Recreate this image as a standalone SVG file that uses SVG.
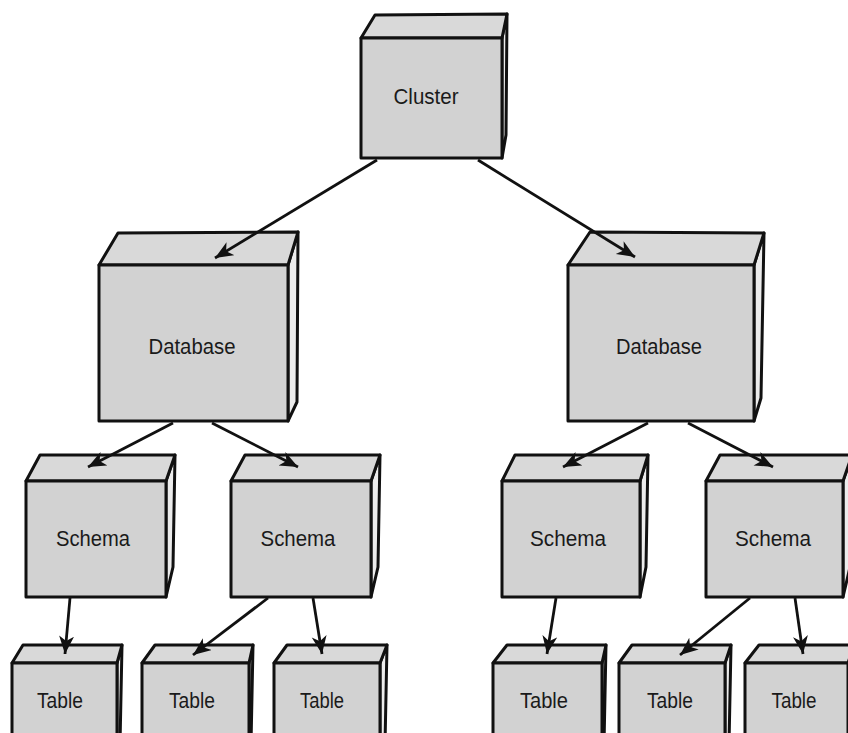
<svg xmlns="http://www.w3.org/2000/svg" width="848" height="733" viewBox="0 0 848 733">
  <style>
    .front { fill: #d2d2d2; stroke: #111; stroke-width: 3; stroke-linejoin: round; }
    .top { fill: #d9d9d9; stroke: #111; stroke-width: 3; stroke-linejoin: round; }
    .side { fill: #ececec; stroke: #111; stroke-width: 3; stroke-linejoin: round; }
    .label { font-family: "Liberation Sans", Arial, sans-serif; font-size: 22px; fill: #1a1a1a; text-anchor: middle; }
    .link { stroke: #111; stroke-width: 2.8; fill: none; marker-end: url(#arrow); }
  </style>
  <defs>
    <marker id="arrow" markerUnits="userSpaceOnUse" markerWidth="20" markerHeight="16" refX="18" refY="7.5" orient="auto">
      <path d="M0,0 L18,7.5 L0,15 L5,7.5 z" fill="#111"/>
    </marker>
  </defs>
  <rect width="848" height="733" fill="#ffffff"/>

  <!-- cluster -->
  <g id="cluster">
    <polygon class="side" points="502,38 507,14 506,135 502,158"/>
    <polygon class="top" points="361,38 375,15 507,14 502,38"/>
    <rect class="front" x="361" y="38" width="141" height="120"/>
    <text class="label" x="426" y="104" textLength="65" lengthAdjust="spacingAndGlyphs">Cluster</text>
  </g>

  <!-- databases -->
  <g id="database-left">
    <polygon class="side" points="288,265 298,232 297,402 288,421"/>
    <polygon class="top" points="99,265 118,233 298,232 288,265"/>
    <rect class="front" x="99" y="265" width="189" height="156"/>
    <text class="label" x="192" y="354" textLength="87" lengthAdjust="spacingAndGlyphs">Database</text>
  </g>
  <g id="database-right">
    <polygon class="side" points="754,265 764,233 761,398 754,421"/>
    <polygon class="top" points="568,265 590,232 764,233 754,265"/>
    <rect class="front" x="568" y="265" width="186" height="156"/>
    <text class="label" x="659" y="354" textLength="86" lengthAdjust="spacingAndGlyphs">Database</text>
  </g>

  <!-- schemas -->
  <g id="schema-1">
    <polygon class="side" points="166,481 175,455 173,567 166,597"/>
    <polygon class="top" points="26,481 40,455 175,455 166,481"/>
    <rect class="front" x="26" y="481" width="140" height="116"/>
    <text class="label" x="93" y="546" textLength="74" lengthAdjust="spacingAndGlyphs">Schema</text>
  </g>
  <g id="schema-2">
    <polygon class="side" points="371,481 380,455 378,567 371,597"/>
    <polygon class="top" points="231,481 245,455 380,455 371,481"/>
    <rect class="front" x="231" y="481" width="140" height="116"/>
    <text class="label" x="298" y="546" textLength="75" lengthAdjust="spacingAndGlyphs">Schema</text>
  </g>
  <g id="schema-3">
    <polygon class="side" points="640,481 648,455 646,567 640,597"/>
    <polygon class="top" points="502,481 515,455 648,455 640,481"/>
    <rect class="front" x="502" y="481" width="138" height="116"/>
    <text class="label" x="568" y="546" textLength="76" lengthAdjust="spacingAndGlyphs">Schema</text>
  </g>
  <g id="schema-4">
    <polygon class="side" points="843,481 852,455 850,567 843,597"/>
    <polygon class="top" points="706,481 720,455 852,455 843,481"/>
    <rect class="front" x="706" y="481" width="137" height="116"/>
    <text class="label" x="773" y="546" textLength="76" lengthAdjust="spacingAndGlyphs">Schema</text>
  </g>

  <!-- tables -->
  <g id="table-1">
    <polygon class="side" points="117,663 122,645 120,745 117,750"/>
    <polygon class="top" points="12,663 23,645 122,645 117,663"/>
    <rect class="front" x="12" y="663" width="105" height="90"/>
    <text class="label" x="60" y="708" textLength="46" lengthAdjust="spacingAndGlyphs">Table</text>
  </g>
  <g id="table-2">
    <polygon class="side" points="249,663 253,645 251,745 249,750"/>
    <polygon class="top" points="142,663 155,645 253,645 249,663"/>
    <rect class="front" x="142" y="663" width="107" height="90"/>
    <text class="label" x="192" y="708" textLength="46" lengthAdjust="spacingAndGlyphs">Table</text>
  </g>
  <g id="table-3">
    <polygon class="side" points="380,663 387,645 385,745 380,750"/>
    <polygon class="top" points="274,663 287,645 387,645 380,663"/>
    <rect class="front" x="274" y="663" width="106" height="90"/>
    <text class="label" x="322" y="708" textLength="44" lengthAdjust="spacingAndGlyphs">Table</text>
  </g>
  <g id="table-4">
    <polygon class="side" points="602,663 606,645 604,745 602,750"/>
    <polygon class="top" points="493,663 507,645 606,645 602,663"/>
    <rect class="front" x="493" y="663" width="109" height="90"/>
    <text class="label" x="544" y="708" textLength="48" lengthAdjust="spacingAndGlyphs">Table</text>
  </g>
  <g id="table-5">
    <polygon class="side" points="725,663 731,645 729,745 725,750"/>
    <polygon class="top" points="619,663 632,645 731,645 725,663"/>
    <rect class="front" x="619" y="663" width="106" height="90"/>
    <text class="label" x="670" y="708" textLength="46" lengthAdjust="spacingAndGlyphs">Table</text>
  </g>
  <g id="table-6">
    <polygon class="side" points="848,663 854,645 852,745 848,750"/>
    <polygon class="top" points="745,663 759,645 854,645 848,663"/>
    <rect class="front" x="745" y="663" width="103" height="90"/>
    <text class="label" x="794" y="708" textLength="45" lengthAdjust="spacingAndGlyphs">Table</text>
  </g>

  <!-- connectors, drawn over the top faces they point into -->
  <g id="connectors">
    <line class="link" x1="377" y1="160" x2="215" y2="258"/>
    <line class="link" x1="478" y1="160" x2="635" y2="257"/>
    <line class="link" x1="173" y1="423" x2="88" y2="467"/>
    <line class="link" x1="212" y1="423" x2="298" y2="467"/>
    <line class="link" x1="648" y1="423" x2="563" y2="467"/>
    <line class="link" x1="688" y1="423" x2="773" y2="467"/>
    <line class="link" x1="70" y1="598" x2="65" y2="654"/>
    <line class="link" x1="268" y1="598" x2="193" y2="655"/>
    <line class="link" x1="313" y1="598" x2="322" y2="654"/>
    <line class="link" x1="556" y1="598" x2="547" y2="654"/>
    <line class="link" x1="750" y1="598" x2="680" y2="655"/>
    <line class="link" x1="795" y1="598" x2="803" y2="654"/>
  </g>
</svg>
